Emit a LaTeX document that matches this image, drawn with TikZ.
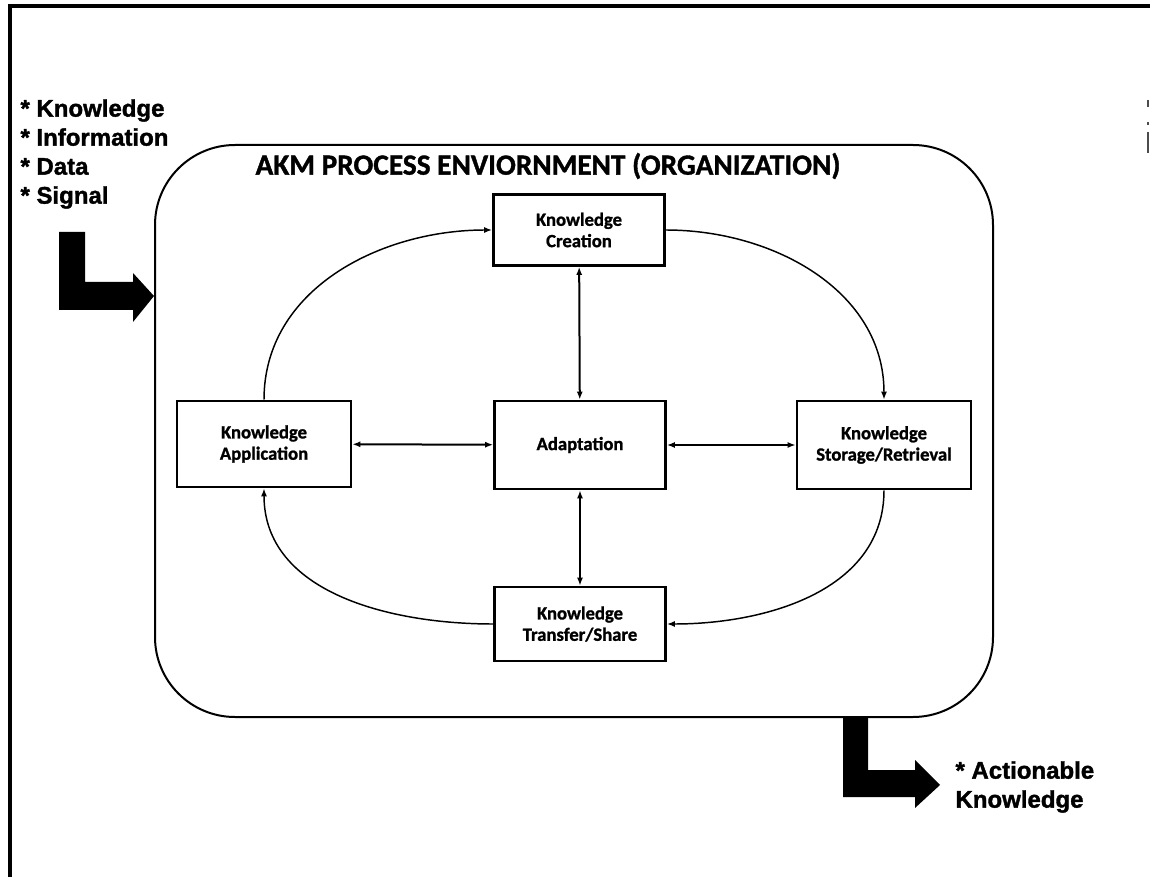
\documentclass[tikz,border=0pt]{standalone}
\usepackage{fontspec}
\setmainfont{Carlito}[BoldFeatures={FakeBold=1.2}]
\newfontfamily\arialfont{Liberation Sans}[BoldFeatures={FakeBold=1.5}]
\usetikzlibrary{arrows.meta}

\tikzset{every picture/.style={line width=0.75pt}}
\tikzset{
  akmbox/.style={draw, line width=2pt, minimum width=128.25pt, align=center, inner sep=2pt,
    font=\bfseries\fontsize{14}{16}\selectfont},
  cycarc/.style={line width=1.1pt, -{Latex[length=6pt,width=4.5pt]}},
  duoarrow/.style={line width=1.5pt, {Latex[length=6pt,width=4.5pt]}-{Latex[length=6pt,width=4.5pt]}},
  outtext/.style={align=left, inner sep=0pt, font=\arialfont\bfseries\fontsize{18}{21.75}\selectfont},
}

\begin{document}
\begin{tikzpicture}[x=0.75pt,y=0.75pt,yscale=-1,xscale=1]
\useasboundingbox (0,0) rectangle (1150,877);

%Straight Lines: page frame
\draw [line width=3pt] (10,877) -- (10,6) -- (1150,6) ;
\draw [line width=1pt, black!70] (1148,100) -- (1148,107) (1148,122) -- (1148,125) (1148,132) -- (1148,153) ;

%Shape: Rounded Rect (environment)
\draw [line width=1.5pt, rounded corners=60pt] (155,145) rectangle (993,717) ;
\node (title) at (548,166) {\bfseries\fontsize{22}{24}\selectfont AKM PROCESS ENVIORNMENT (ORGANIZATION)};

%Shape: Rectangles (process steps)
\node [akmbox, minimum height=53.25pt] (creation) at (579,230) {Knowledge\\Creation};
\node [akmbox, minimum width=130.5pt, minimum height=64.5pt] (application) at (264,444) {Knowledge\\Application};
\node [akmbox, minimum height=66pt] (adaptation) at (580,445) {Adaptation};
\node [akmbox, minimum width=130.5pt, minimum height=66pt] (storage) at (884,445) {Knowledge\\Storage/Retrieval};
\node [akmbox, minimum height=55.5pt] (transfer) at (580,624) {Knowledge\\Transfer/Share};

%Curve Lines: outer cycle
\draw [cycarc] (application.north) to[out=-90,in=180] (creation.west) ;
\draw [cycarc] (creation.east) to[out=0,in=-90] (storage.north) ;
\draw [cycarc] (storage.south) to[out=90,in=0] (transfer.east) ;
\draw [cycarc] (transfer.west) to[out=180,in=90] (application.south) ;

%Straight Lines: to and from adaptation
\draw [duoarrow] (creation) -- (adaptation) ;
\draw [duoarrow] (application) -- (adaptation) ;
\draw [duoarrow] (adaptation) -- (storage) ;
\draw [duoarrow] (adaptation) -- (transfer) ;

%Shape: input L arrow
\node [outtext, anchor=west] (inputs) at (20,154) {* Knowledge\\* Information\\* Data\\* Signal};
\fill (59,232) -- (85,232) -- (85,282) -- (133,282) -- (133,273) -- (154,296) -- (133,322) -- (133,310) -- (59,310) -- cycle ;

%Shape: output L arrow
\fill (843,717) -- (868,717) -- (868,770) -- (915,770) -- (915,760) -- (940,785) -- (915,808) -- (915,797) -- (843,797) -- cycle ;
\node [outtext, anchor=west] (outputs) at (955,787) {* Actionable\\Knowledge};

\end{tikzpicture}
\end{document}
